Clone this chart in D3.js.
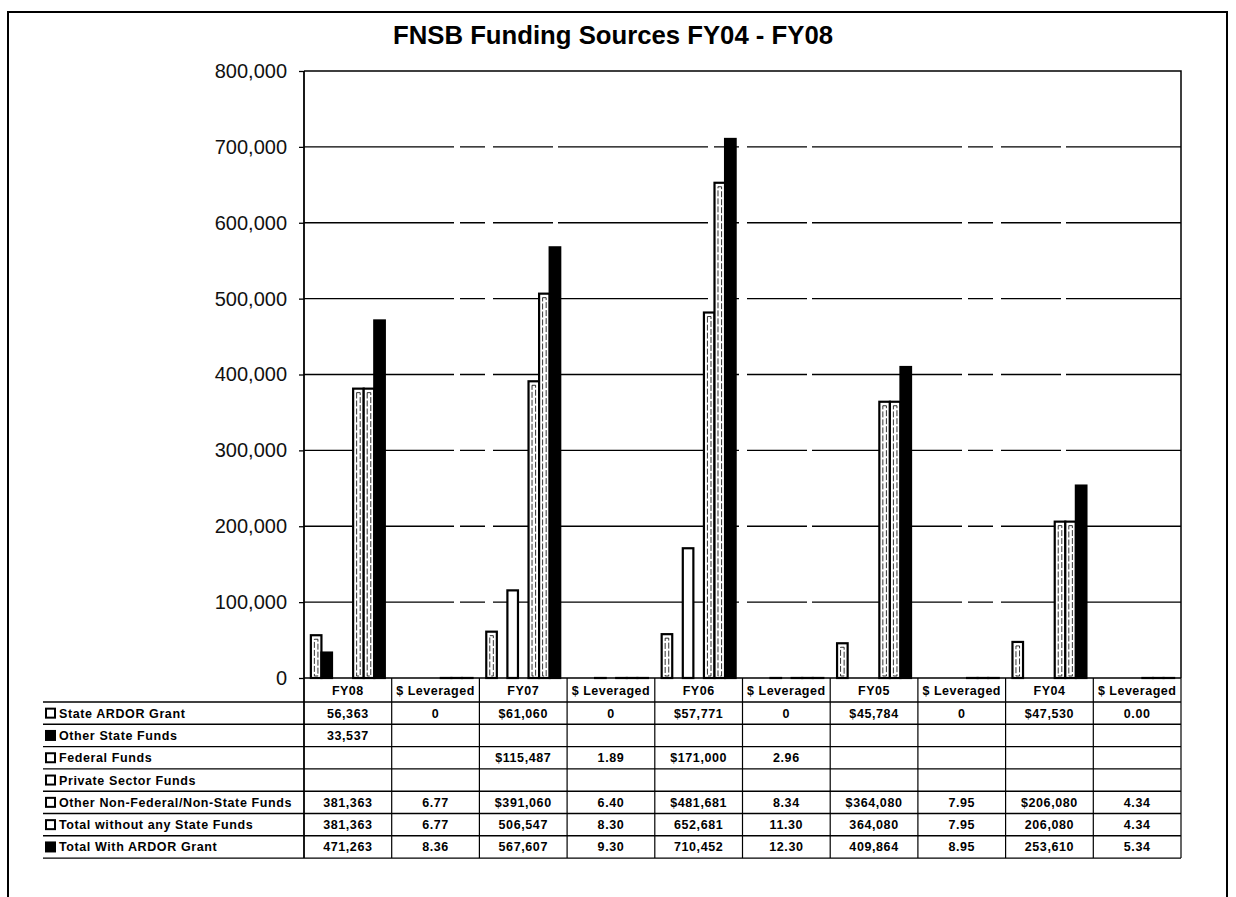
<!DOCTYPE html>
<html>
<head>
<meta charset="utf-8">
<script src="https://cdn.jsdelivr.net/npm/d3@7/dist/d3.min.js"></script>
<style>
    body { margin: 0; background: #fff; }
    svg { display: block; font-family: "Liberation Sans", Arial, sans-serif; }
</style>
</head>
<body>
<div id="chart"></div>
<script>
// Chart data
const title = "FNSB Funding Sources FY04 - FY08";
const categories = ["FY08", "$ Leveraged ", "FY07", "$ Leveraged  ", "FY06", "$ Leveraged   ",
    "FY05", "$ Leveraged    ", "FY04", "$ Leveraged     "];
const seriesNames = ["State ARDOR Grant", "Other State Funds", "Federal Funds", "Private Sector Funds",
    "Other Non-Federal/Non-State Funds", "Total without any State Funds", "Total With ARDOR Grant"];

// table cells per series, one per category (empty = no value)
const stateArdor   = ["56,363", "0", "$61,060", "0", "$57,771", "0", "$45,784", "0", "$47,530", "0.00"];
const otherState   = ["33,537", "", "", "", "", "", "", "", "", ""];
const federal      = ["", "", "$115,487", "1.89", "$171,000", "2.96", "", "", "", ""];
const privateFunds = ["", "", "", "", "", "", "", "", "", ""];
const otherNonFed  = ["381,363", "6.77", "$391,060", "6.40", "$481,681", "8.34", "$364,080", "7.95", "$206,080", "4.34"];
const totalWithout = ["381,363", "6.77", "506,547", "8.30", "652,681", "11.30", "364,080", "7.95", "206,080", "4.34"];
const totalWith    = ["471,263", "8.36", "567,607", "9.30", "710,452", "12.30", "409,864", "8.95", "253,610", "5.34"];

const yTicks = [0, 100000, 200000, 300000, 400000, 500000, 600000, 700000, 800000];

const tableRows = [stateArdor, otherState, federal, privateFunds, otherNonFed, totalWithout, totalWith];

// styles per series (black or outlined white bars)
const seriesFill = ["#fff", "#000", "#fff", "#fff", "#fff", "#fff", "#000"];
const seriesInner = [true, false, false, false, true, true, false];

// layout
const W = 1236, H = 897;
const plot = { left: 304, right: 1181, top: 71, bottom: 678 };
const table = { left: 43, top: 702, rowH: 22.3 };
const textFont = "12.5px";

const parseCell = s => s === "" ? null : +s.replace(/[$,]/g, "");

const svg = d3.select("#chart").append("svg")
    .attr("width", W)
    .attr("height", H);

// outer chart border
svg.append("rect")
    .attr("x", 8).attr("y", 12)
    .attr("width", 1219).attr("height", H)
    .attr("fill", "none").attr("stroke", "#000").attr("stroke-width", 2);

// title
svg.append("text")
    .attr("x", 613).attr("y", 44)
    .attr("text-anchor", "middle")
    .attr("font-size", "26px").attr("font-weight", "bold")
    .attr("textLength", 440).attr("lengthAdjust", "spacingAndGlyphs")
    .text(title);

// scales
const y = d3.scaleLinear().domain([0, 800000]).range([plot.bottom, plot.top]);
const x0 = d3.scaleBand().domain(categories).range([plot.left, plot.right]);
const x1 = d3.scaleBand().domain(seriesNames).range([0, x0.bandwidth()])
    .paddingInner(0).paddingOuter(0.65);

// gridlines (broken, like the scanned original)
svg.append("g").selectAll("line")
    .data(yTicks.filter(d => d > 0 && d < 800000))
    .join("line")
    .attr("x1", plot.left).attr("x2", plot.right)
    .attr("y1", d => y(d)).attr("y2", d => y(d))
    .attr("stroke", "#000").attr("stroke-width", 1.3)
    .attr("stroke-dasharray", "150,6,25,8,60,5");

// plot area border (top + right)
svg.append("path")
    .attr("d", `M${plot.left},${plot.top}H${plot.right}V${plot.bottom}`)
    .attr("fill", "none").attr("stroke", "#000").attr("stroke-width", 1.5);

// y axis
const yAxis = svg.append("g")
    .attr("transform", `translate(${plot.left},0)`)
    .call(d3.axisLeft(y).tickValues(yTicks).tickSize(5).tickPadding(12).tickFormat(d3.format(",")));
yAxis.select(".domain").remove();
yAxis.selectAll(".tick line").attr("stroke", "#000").attr("stroke-width", 1.3);
yAxis.selectAll(".tick text")
    .attr("font-size", "20px")
    .attr("font-family", "\"Liberation Sans\", Arial, sans-serif")
    .attr("fill", "#111");

// bars
const barData = [];
categories.forEach((cat, i) => {
    seriesNames.forEach((s, j) => {
        const v = parseCell(tableRows[j][i]);
        if (v !== null) barData.push({ cat, series: s, j, value: v });
    });
});

const bars = svg.append("g");
bars.selectAll("rect.bar")
    .data(barData)
    .join("rect")
    .attr("class", "bar")
    .attr("x", d => x0(d.cat) + x1(d.series))
    .attr("y", d => y(d.value))
    .attr("width", x1.bandwidth())
    .attr("height", d => y(0) - y(d.value))
    .attr("fill", d => seriesFill[d.j])
    .attr("stroke", "#000")
    .attr("stroke-width", 2.2);

// inner stripe of the patterned white bars
bars.selectAll("rect.inner")
    .data(barData.filter(d => seriesInner[d.j] && y(0) - y(d.value) > 10))
    .join("rect")
    .attr("class", "inner")
    .attr("x", d => x0(d.cat) + x1(d.series) + 3.5)
    .attr("y", d => y(d.value) + 4)
    .attr("width", x1.bandwidth() - 7)
    .attr("height", d => y(0) - y(d.value) - 6)
    .attr("fill", "none")
    .attr("stroke", "#000")
    .attr("stroke-width", 0.8)
    .attr("stroke-dasharray", "6,2");

// x axis line / table top
const tableBottom = table.top + table.rowH * seriesNames.length;
svg.append("line")
    .attr("x1", plot.left).attr("x2", plot.right)
    .attr("y1", plot.bottom).attr("y2", plot.bottom)
    .attr("stroke", "#000").attr("stroke-width", 1.5);

// vertical axis continuing down the table
svg.append("line")
    .attr("x1", plot.left).attr("x2", plot.left)
    .attr("y1", plot.top).attr("y2", tableBottom)
    .attr("stroke", "#000").attr("stroke-width", 1.8);

// category cell borders
svg.append("g").selectAll("line")
    .data(categories.slice(1).map(c => x0(c)).concat([plot.right]))
    .join("line")
    .attr("x1", d => d).attr("x2", d => d)
    .attr("y1", plot.bottom).attr("y2", tableBottom)
    .attr("stroke", "#000").attr("stroke-width", 1.2);

// row lines
svg.append("g").selectAll("line")
    .data(d3.range(seriesNames.length + 1))
    .join("line")
    .attr("x1", table.left).attr("x2", plot.right)
    .attr("y1", k => table.top + k * table.rowH)
    .attr("y2", k => table.top + k * table.rowH)
    .attr("stroke", "#000").attr("stroke-width", 1.4);

// category labels (header row)
svg.append("g").selectAll("text")
    .data(categories)
    .join("text")
    .attr("x", d => x0(d) + x0.bandwidth() / 2)
    .attr("y", (plot.bottom + table.top) / 2 + 4.5)
    .attr("text-anchor", "middle")
    .attr("font-size", textFont).attr("font-weight", "bold")
    .attr("letter-spacing", "0.5px")
    .text(d => d.trim());

// row labels with legend keys
const rowG = svg.append("g").selectAll("g")
    .data(seriesNames)
    .join("g")
    .attr("transform", (d, j) => `translate(0,${table.top + (j + 0.5) * table.rowH})`);

rowG.append("rect")
    .attr("x", 46).attr("y", -4.5)
    .attr("width", 9).attr("height", 9)
    .attr("fill", (d, j) => seriesFill[j])
    .attr("stroke", "#000").attr("stroke-width", 2);

rowG.append("text")
    .attr("x", 59).attr("y", 4.5)
    .attr("font-size", textFont).attr("font-weight", "bold")
    .attr("letter-spacing", "0.6px")
    .text(d => d);

// cell values
rowG.each(function (name, j) {
    d3.select(this).selectAll("text.cell")
        .data(tableRows[j].map((v, i) => ({ v, cat: categories[i] })))
        .join("text")
        .attr("class", "cell")
        .attr("x", d => x0(d.cat) + x0.bandwidth() / 2)
        .attr("y", 4.5)
        .attr("text-anchor", "middle")
        .attr("font-size", textFont).attr("font-weight", "bold")
        .attr("letter-spacing", "0.6px")
        .text(d => d.v);
});
</script>
</body>
</html>
